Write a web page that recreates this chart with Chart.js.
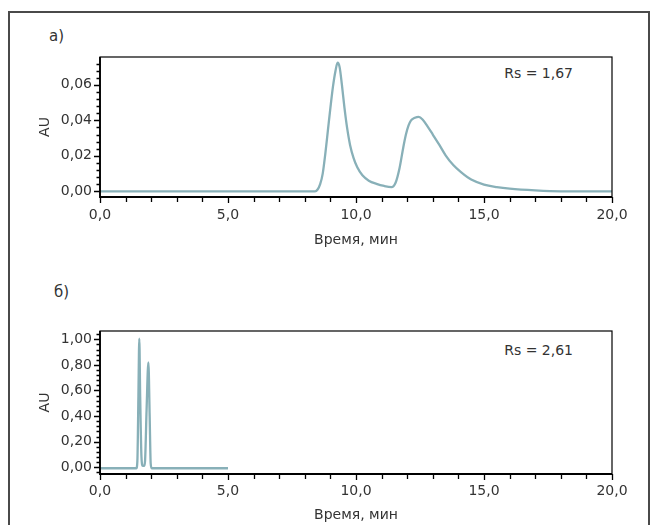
<!DOCTYPE html>
<html>
<head>
<meta charset="utf-8">
<script src="https://cdn.jsdelivr.net/npm/chart.js@4"></script>
<style>
  html, body { margin: 0; padding: 0; background: #fff; }
  #page { position: relative; width: 654px; height: 525px; overflow: hidden; font-family: "DejaVu Sans", sans-serif; color: #333; }
  #frame { position: absolute; left: 8px; top: 11px; width: 638px; height: 560px; border: 2px solid #4a4a4a; }
  canvas { position: absolute; left: 0; }
  .lbl { position: absolute; font-size: 15px; line-height: 18px; }
  .rs { position: absolute; right: 81px; font-size: 14px; line-height: 16px; }
</style>
</head>
<body>
<div id="page">
  <div id="frame"></div>
  <div class="lbl" style="left:49px; top:27px;">а)</div>
  <div class="lbl" style="left:54px; top:283px;">б)</div>
  <div class="rs" style="top:65px;">Rs = 1,67</div>
  <div class="rs" style="top:342px;">Rs = 2,61</div>
  <canvas id="chartA" width="654" height="262" style="top:0;"></canvas>
  <canvas id="chartB" width="654" height="263" style="top:262px;"></canvas>
</div>
<script>
// a) chromatogram, time in min / absorbance
const timeA = [0, 8.40, 8.50, 8.60, 8.70, 8.80, 8.90, 9.00, 9.10, 9.20, 9.28, 9.36, 9.45, 9.55, 9.65, 9.77, 9.90,
  10.05, 10.25, 10.5, 10.8, 11.1, 11.39, 11.55, 11.70, 11.85, 11.95, 12.05, 12.15, 12.3, 12.45, 12.6, 12.8, 13.0, 13.25,
  13.5, 13.8, 14.1, 14.5, 15.0, 15.5, 16.0, 17.0, 18.0, 20.0];
const auA = [0, 0, 0.001, 0.004, 0.010, 0.021, 0.034, 0.047, 0.059, 0.068, 0.0725, 0.070, 0.060, 0.047, 0.036, 0.026, 0.019,
  0.0135, 0.009, 0.006, 0.0042, 0.003, 0.0024, 0.005, 0.013, 0.025, 0.032, 0.037, 0.040, 0.0415, 0.042, 0.0405, 0.0365, 0.032, 0.0263,
  0.0203, 0.0148, 0.0108, 0.0066, 0.0038, 0.0024, 0.0015, 0.0005, 0, 0];

// b) chromatogram
const timeB = [0, 1.42, 1.46, 1.50, 1.535, 1.57, 1.62, 1.67, 1.72, 1.76, 1.82, 1.89, 1.94, 1.98, 2.02, 5.0];
const auB = [-0.008, -0.008, 0.05, 0.55, 1.005, 0.55, 0.08, 0.01, 0.01, 0.05, 0.45, 0.82, 0.4, 0.03, -0.008, -0.008];

const xTickLabels = ["0,0", "5,0", "10,0", "15,0", "20,0"];

Chart.defaults.font.family = "DejaVu Sans";
Chart.defaults.font.size = 14;
Chart.defaults.color = "#333";

// axis lines, plot box and tick marks
const tickMarks = {
  id: "tickMarks",
  afterDraw(chart) {
    const { ctx, chartArea: a, scales: { x, y } } = chart;
    ctx.save();
    ctx.strokeStyle = "#000";
    ctx.lineWidth = 1.2;
    ctx.strokeRect(a.left, a.top, a.right - a.left, a.bottom - a.top);
    ctx.lineWidth = 1.8;
    ctx.beginPath();
    ctx.moveTo(a.left, a.top);
    ctx.lineTo(a.left, a.bottom);
    ctx.lineTo(a.right, a.bottom);
    ctx.stroke();
    ctx.lineWidth = 1.3;
    ctx.beginPath();
    y.ticks.forEach(t => {
      const py = Math.round(y.getPixelForValue(t.value)) + 0.5;
      const len = t.label ? 6 : 3.5;
      ctx.moveTo(a.left - len, py);
      ctx.lineTo(a.left, py);
    });
    x.ticks.forEach(t => {
      const px = Math.round(x.getPixelForValue(t.value)) + 0.5;
      const len = t.label ? 6 : 5;
      ctx.moveTo(px, a.bottom);
      ctx.lineTo(px, a.bottom + len);
    });
    ctx.stroke();
    ctx.restore();
  }
};

function makeChart(id, times, values, yMin, yMax, yStep, yLabelStep, padTop, xAxisH, titlePad, labelPad) {
  const points = times.map((t, i) => ({ x: t, y: values[i] }));
  return new Chart(document.getElementById(id), {
    type: "line",
    data: {
      datasets: [{
        data: points,
        borderColor: "#88b0b8",
        borderWidth: 2.3,
        pointRadius: 0,
        cubicInterpolationMode: "monotone",
        fill: false
      }]
    },
    options: {
      responsive: false,
      animation: false,
      layout: { padding: { top: padTop, right: 42, left: 0, bottom: 0 } },
      plugins: { legend: { display: false }, tooltip: { enabled: false } },
      scales: {
        x: {
          type: "linear",
          min: 0,
          max: 20,
          afterFit: s => { s.height = xAxisH; },
          grid: { display: false, drawTicks: false },
          border: { display: false },
          ticks: {
            stepSize: 1,
            autoSkip: false,
            maxRotation: 0,
            padding: labelPad,
            callback: v => (v % 5 === 0 ? xTickLabels[v / 5] : "")
          },
          title: { display: true, text: "Время, мин", padding: { top: 0, bottom: titlePad } }
        },
        y: {
          min: yMin,
          max: yMax,
          afterFit: s => { s.width = 100; },
          grid: { display: false, drawTicks: false },
          border: { display: false },
          ticks: {
            stepSize: yStep,
            autoSkip: false,
            includeBounds: false,
            padding: 8,
            callback: v => {
              const r = v / yLabelStep;
              return Math.abs(r - Math.round(r)) < 1e-6 ? v.toFixed(2).replace(".", ",") : "";
            }
          },
          title: { display: true, text: "AU", padding: { top: 36.6, bottom: 0 } }
        }
      }
    },
    plugins: [tickMarks]
  });
}

makeChart("chartA", timeA, auA, -0.0032, 0.0757, 0.004, 0.02, 57, 65, 13.6, 10);
makeChart("chartB", timeB, auB, -0.053, 1.065, 0.04, 0.2, 69, 51, 1.6, 9);
</script>
</body>
</html>
